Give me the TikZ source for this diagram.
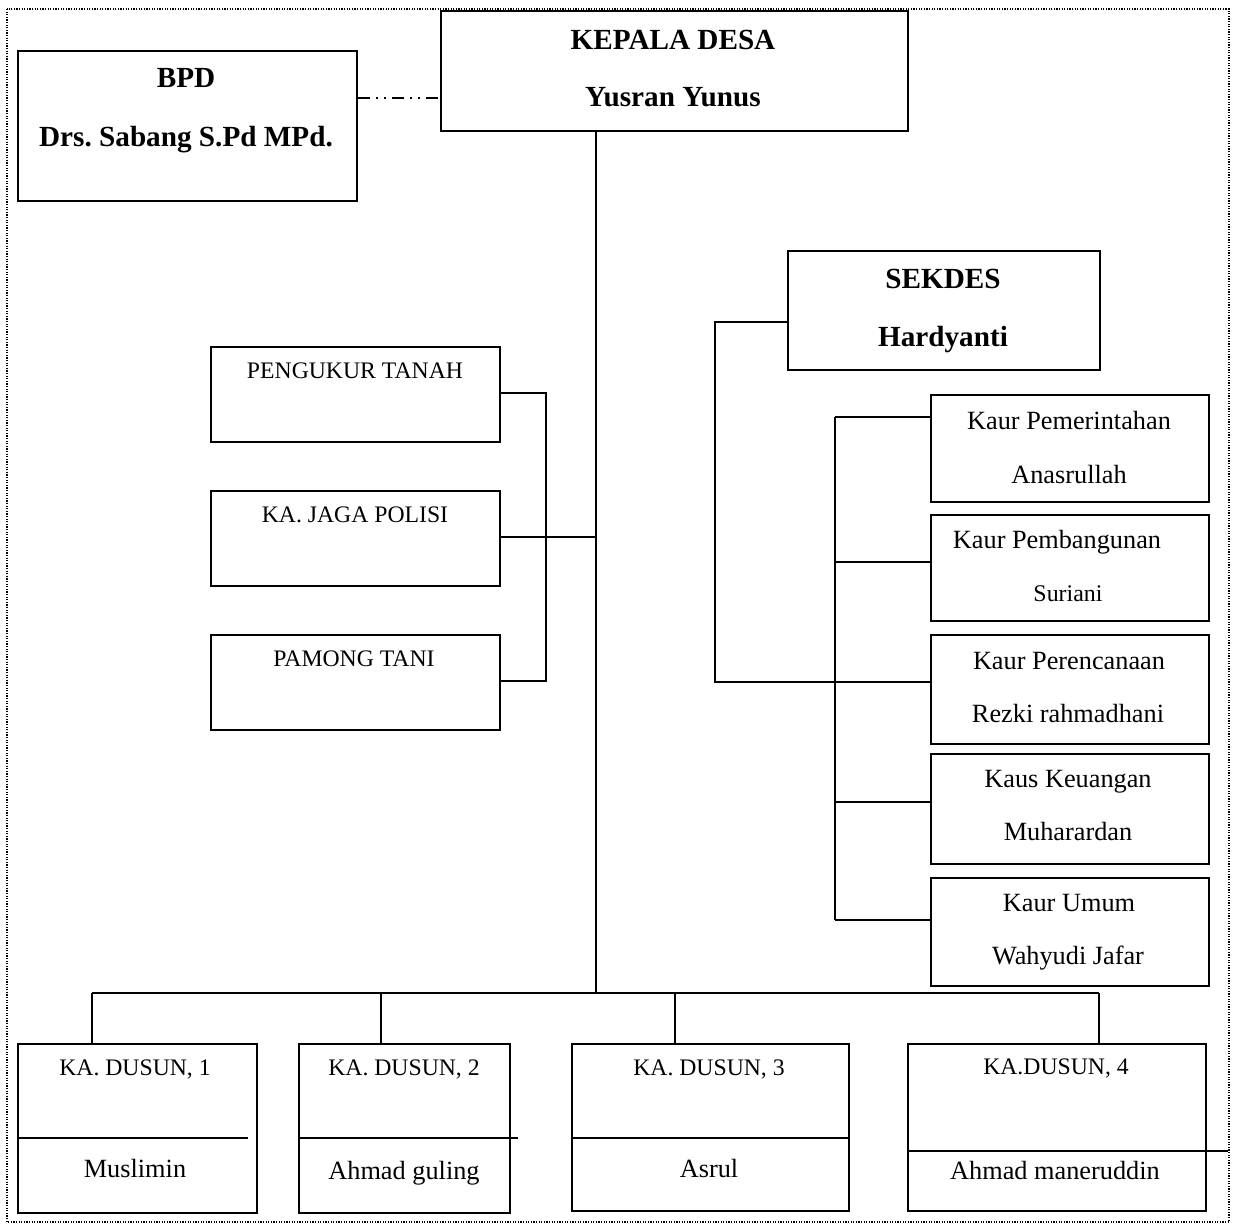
\documentclass[tikz,border=0pt]{standalone}
\usepackage{fontspec}
\setmainfont{Liberation Serif}
\frenchspacing
\begin{document}
\begin{tikzpicture}[x=1pt,y=-1pt,
  box/.style={draw, line width=1.8pt, rectangle, anchor=north west, inner sep=0pt},
  conn/.style={line width=1.8pt},
  bold/.style={font=\fontsize{29.2}{32}\selectfont\bfseries, anchor=base, inner sep=0pt},
  caps/.style={font=\fontsize{23.7}{26}\selectfont, anchor=base, inner sep=0pt},
  lower/.style={font=\fontsize{26.3}{29}\selectfont, anchor=base, inner sep=0pt},
  small/.style={font=\fontsize{23.9}{26}\selectfont, anchor=base, inner sep=0pt},
  ddot/.style={line width=1.6pt, dash pattern=on 12pt off 6pt on 2pt off 6pt on 2pt off 6pt}]
\useasboundingbox (0,0) rectangle (1237,1226);
\draw[line width=1.2pt, dash pattern=on 1.2pt off 1.4pt] (7,9) rectangle (1229,1222);

% boxes
\node[box, minimum width=339pt, minimum height=150pt] (bpd) at (17,50) {};
\node[box, minimum width=467pt, minimum height=120pt] (kades) at (440,10) {};
\node[box, minimum width=312pt, minimum height=119pt] (sek) at (787,250) {};
\node[box, minimum width=289pt, minimum height=95pt] (pt) at (210,346) {};
\node[box, minimum width=289pt, minimum height=95pt] (jp) at (210,490) {};
\node[box, minimum width=289pt, minimum height=95pt] (pm) at (210,634) {};
\node[box, minimum width=278pt, minimum height=107pt] (k1) at (930,394) {};
\node[box, minimum width=278pt, minimum height=106pt] (k2) at (930,514) {};
\node[box, minimum width=278pt, minimum height=109pt] (k3) at (930,634) {};
\node[box, minimum width=278pt, minimum height=110pt] (k4) at (930,753) {};
\node[box, minimum width=278pt, minimum height=108pt] (k5) at (930,877) {};
\node[box, minimum width=239pt, minimum height=169pt] (d1) at (17,1043) {};
\node[box, minimum width=211pt, minimum height=169pt] (d2) at (298,1043) {};
\node[box, minimum width=277pt, minimum height=167pt] (d3) at (571,1043) {};
\node[box, minimum width=298pt, minimum height=167pt] (d4) at (907,1043) {};

% texts
\node[bold] (t1) at (673,49) {KEPALA DESA};
\node[bold] (t2) at (673,106) {Yusran Yunus};
\node[bold] (t3) at (186,87) {BPD};
\node[bold] (t4) at (186,146) {Drs. Sabang S.Pd MPd.};
\node[bold] (t5) at (943,288) {SEKDES};
\node[bold] (t6) at (943,346) {Hardyanti};
\node[caps] (t7) at (355,378) {PENGUKUR TANAH};
\node[caps] (t8) at (355,522) {KA. JAGA POLISI};
\node[caps] (t9) at (354,666) {PAMONG TANI};
\node[lower] (t10) at (1069,429) {Kaur Pemerintahan};
\node[lower] (t11) at (1069,483) {Anasrullah};
\node[lower] (t12) at (1057,548) {Kaur Pembangunan};
\node[small] (t13) at (1068,601) {Suriani};
\node[lower] (t14) at (1069,669) {Kaur Perencanaan};
\node[lower] (t15) at (1068,722) {Rezki rahmadhani};
\node[lower] (t16) at (1068,787) {Kaus Keuangan};
\node[lower] (t17) at (1068,840) {Muharardan};
\node[lower] (t18) at (1069,911) {Kaur Umum};
\node[lower] (t19) at (1068,964) {Wahyudi Jafar};
\node[caps] (t20) at (135,1075) {KA. DUSUN, 1};
\node[lower] (t21) at (135,1177) {Muslimin};
\node[caps] (t22) at (404,1075) {KA. DUSUN, 2};
\node[lower] (t23) at (404,1179) {Ahmad guling};
\node[caps] (t24) at (709,1075) {KA. DUSUN, 3};
\node[lower] (t25) at (709,1177) {Asrul};
\node[caps] (t26) at (1056,1074) {KA.DUSUN, 4};
\node[lower] (t27) at (1055,1179) {Ahmad maneruddin};

% coordinates
\coordinate (mtop) at (596,130);
\coordinate (mbot) at (596,993);
\coordinate (lbus) at (546,537);
\coordinate (sbus) at (715,322);
\coordinate (rbus) at (835,417);

% connectors
\draw[ddot] (bpd.east |- 0,98) -- (kades.west |- 0,98);
\draw[conn] (mtop) -- (mbot);
\draw[conn] (pt.east |- 0,393) -| (lbus) |- (pm.east |- 0,681);
\draw[conn] (jp.east |- 0,537) -- (mtop |- 0,537);
\draw[conn] (sek.west |- 0,322) -- (sbus) |- (k3.west |- 0,682);
\draw[conn] (rbus) -- (835,920);
\draw[conn] (rbus) -- (k1.west |- 0,417);
\draw[conn] (835,562) -- (k2.west |- 0,562);
\draw[conn] (835,802) -- (k4.west |- 0,802);
\draw[conn] (835,920) -- (k5.west |- 0,920);
\draw[conn] (92,993) -- (1099,993);
\draw[conn] (92,993) -- (d1.north -| 92,0);
\draw[conn] (381,993) -- (d2.north -| 381,0);
\draw[conn] (675,993) -- (d3.north -| 675,0);
\draw[conn] (1099,993) -- (d4.north -| 1099,0);
% dividers
\draw[conn] (d1.west |- 0,1138) -- (248,1138);
\draw[conn] (d2.west |- 0,1138) -- (518,1138);
\draw[conn] (d3.west |- 0,1138) -- (d3.east |- 0,1138);
\draw[conn] (d4.west |- 0,1151) -- (1228,1151);
\end{tikzpicture}
\end{document}
